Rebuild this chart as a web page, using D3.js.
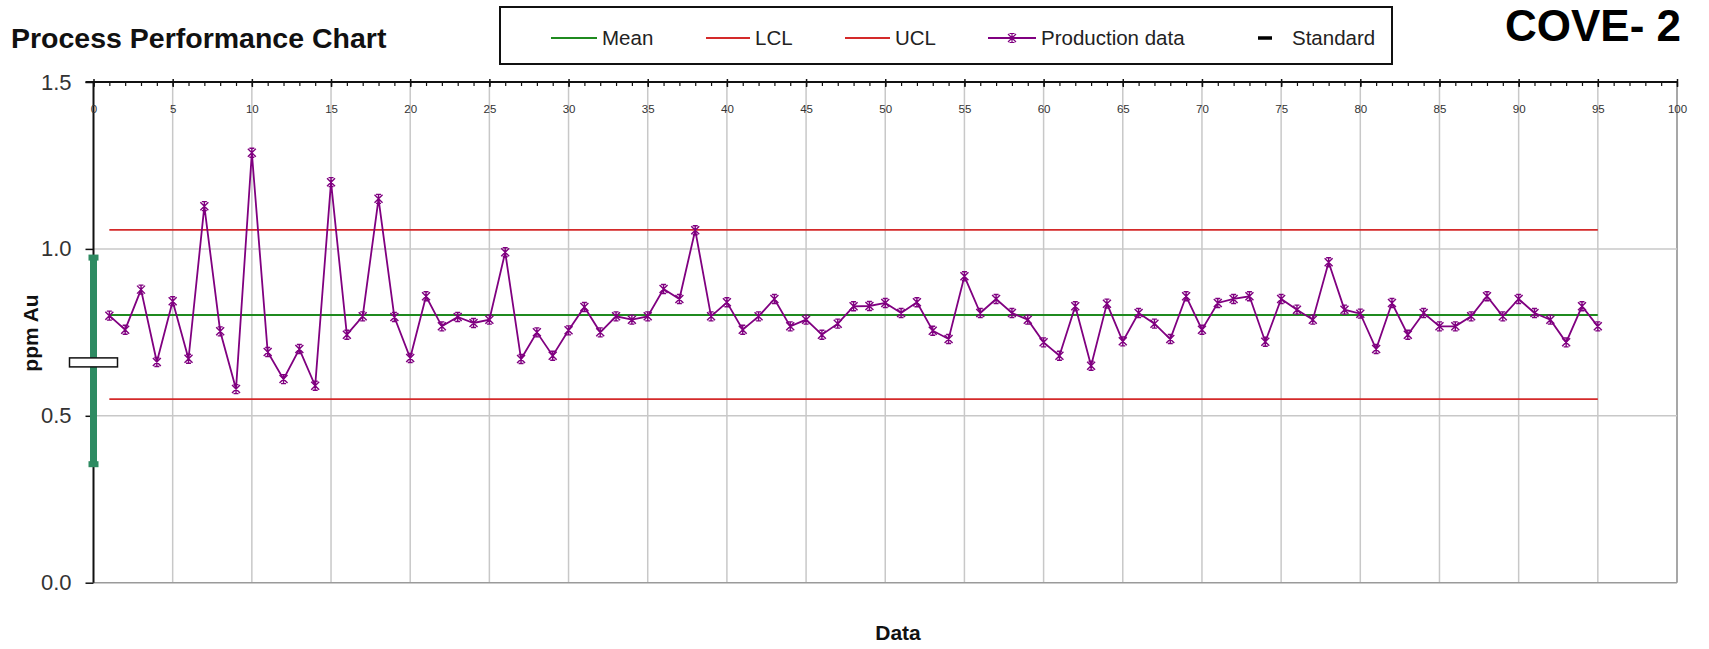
<!DOCTYPE html>
<html>
<head>
<meta charset="UTF-8">
<title>Process Performance Chart</title>
<script src="https://cdnjs.cloudflare.com/ajax/libs/d3/7.8.5/d3.min.js"></script>
<style>
    body { margin: 0; background: #fff; }
    svg { display: block; font-family: "Liberation Sans", Arial, sans-serif; }
</style>
</head>
<body>
<div id="chart"></div>
<script>
    // data
    const sampleNo = d3.range(1, 96);
    const production = [
        0.800, 0.758, 0.878, 0.661, 0.843, 0.671, 1.128, 0.753, 0.580, 1.288,
        0.691, 0.610, 0.700, 0.590, 1.200, 0.743, 0.798, 1.150, 0.796, 0.673,
        0.858, 0.768, 0.796, 0.778, 0.788, 0.990, 0.670, 0.750, 0.680, 0.756,
        0.826, 0.750, 0.798, 0.788, 0.798, 0.880, 0.850, 1.056, 0.798, 0.840,
        0.758, 0.798, 0.850, 0.768, 0.788, 0.743, 0.776, 0.828, 0.829, 0.838,
        0.808, 0.840, 0.755, 0.730, 0.918, 0.808, 0.850, 0.808, 0.788, 0.720,
        0.680, 0.828, 0.650, 0.836, 0.723, 0.808, 0.776, 0.730, 0.858, 0.758,
        0.838, 0.850, 0.858, 0.722, 0.850, 0.818, 0.788, 0.960, 0.818, 0.806,
        0.700, 0.838, 0.743, 0.808, 0.768, 0.768, 0.798, 0.858, 0.798, 0.850,
        0.808, 0.788, 0.720, 0.828, 0.768
    ];
    const limitNames = ["Mean", "LCL", "UCL"];
    const limitValues = [0.802, 0.550, 1.057];
    const limitRange = [1, 95];
    const standardX = 0;
    const standardValue = 0.66;
    const standardRange = [0.355, 0.974];
    const xTicks = d3.range(0, 101, 5);
    const yTicks = [0, 0.5, 1.0, 1.5];
    const legendNames = ["Mean", "LCL", "UCL", "Production data", "Standard"];

    const W = 1709, H = 649;
    const purple = "#800080", red = "#d42a2a", green = "#1f8a1f", barGreen = "#2e8b62";

    const x = d3.scaleLinear().domain([0, 100]).range([93.5, 1677]);
    const y = d3.scaleLinear().domain([0, 1.5]).range([582.7, 82]);

    const svg = d3.select("#chart").append("svg")
        .attr("width", W)
        .attr("height", H);

    // grid
    svg.append("g").selectAll("line")
        .data(xTicks.filter(d => d > 0))
        .join("line")
        .attr("x1", d => x(d)).attr("x2", d => x(d))
        .attr("y1", y(1.5)).attr("y2", y(0))
        .attr("stroke", d => d === 100 ? "#8a8a8a" : "#c8c8c8")
        .attr("stroke-width", 1.5);
    svg.append("g").selectAll("line")
        .data(yTicks.filter(d => d < 1.5))
        .join("line")
        .attr("x1", x(0)).attr("x2", x(100))
        .attr("y1", d => y(d)).attr("y2", d => y(d))
        .attr("stroke", d => d === 0 ? "#9a9a9a" : "#c8c8c8")
        .attr("stroke-width", 1.5);

    // y axis
    const yAxis = d3.axisLeft(y).tickValues(yTicks).tickFormat(d3.format(".1f")).tickSize(8).tickPadding(14);
    const gy = svg.append("g")
        .attr("transform", "translate(" + x(0) + ",0)")
        .call(yAxis);
    gy.select(".domain").attr("stroke", "#111").attr("stroke-width", 2).attr("d", "M0," + y(1.5) + "V" + y(0));
    gy.selectAll(".tick line").attr("stroke", "#111").attr("stroke-width", 1.5);
    gy.selectAll(".tick text").attr("font-size", 22).attr("fill", "#333").attr("font-family", "Liberation Sans, Arial, sans-serif");

    // x axis along the top, labels inside
    const gxMinor = svg.append("g")
        .attr("transform", "translate(0," + y(1.5) + ")")
        .call(d3.axisBottom(x).ticks(100).tickSize(4).tickFormat(""));
    gxMinor.select(".domain").remove();
    gxMinor.selectAll(".tick line").attr("stroke", "#111").attr("stroke-width", 1.2);

    const gx = svg.append("g")
        .attr("transform", "translate(0," + y(1.5) + ")")
        .call(d3.axisTop(x).tickValues(xTicks).tickSize(-5).tickFormat(d3.format("d")));
    gx.select(".domain").attr("stroke", "#111").attr("stroke-width", 2).attr("d", "M" + (x(0) - 8) + ",0H" + x(100));
    gx.selectAll(".tick line").attr("stroke", "#111").attr("stroke-width", 1.5).attr("y1", -3).attr("y2", 5);
    gx.selectAll(".tick text")
        .attr("y", 27)
        .attr("dy", "0.32em")
        .attr("font-size", 11.5)
        .attr("fill", "#333")
        .attr("font-family", "Liberation Sans Narrow, Liberation Sans, Arial, sans-serif");

    // control lines
    svg.append("g").selectAll("line")
        .data(limitValues)
        .join("line")
        .attr("x1", x(limitRange[0])).attr("x2", x(limitRange[1]))
        .attr("y1", d => y(d)).attr("y2", d => y(d))
        .attr("stroke", (d, i) => i === 0 ? green : red)
        .attr("stroke-width", 1.8);

    // production data
    const line = d3.line()
        .x((d, i) => x(sampleNo[i]))
        .y(d => y(d));
    svg.append("path")
        .datum(production)
        .attr("d", line)
        .attr("fill", "none")
        .attr("stroke", purple)
        .attr("stroke-width", 1.8);

    const star = "M-4,-4L4,4M-4,4L4,-4M0,-4.5V4.5M-2.5,-4.5H2.5M-2.5,4.5H2.5";
    svg.append("g").selectAll("path")
        .data(production)
        .join("path")
        .attr("transform", (d, i) => "translate(" + x(sampleNo[i]) + "," + y(d) + ")")
        .attr("d", star)
        .attr("fill", "none")
        .attr("stroke", purple)
        .attr("stroke-width", 1.4);

    // standard: error bar and marker
    svg.append("line")
        .attr("x1", x(standardX)).attr("x2", x(standardX))
        .attr("y1", y(standardRange[0])).attr("y2", y(standardRange[1]))
        .attr("stroke", barGreen)
        .attr("stroke-width", 7);
    svg.append("g").selectAll("rect")
        .data(standardRange)
        .join("rect")
        .attr("x", x(standardX) - 5).attr("width", 10)
        .attr("y", d => y(d) - 3).attr("height", 6)
        .attr("fill", barGreen);
    svg.append("rect")
        .attr("x", x(standardX) - 24).attr("width", 48)
        .attr("y", y(standardValue) - 4.5).attr("height", 9)
        .attr("fill", "#fff")
        .attr("stroke", "#111")
        .attr("stroke-width", 1.5);

    // axis titles
    svg.append("text")
        .attr("transform", "translate(38," + 333 + ") rotate(-90)")
        .attr("text-anchor", "middle")
        .attr("font-size", 21).attr("font-weight", "bold").attr("fill", "#111")
        .text("ppm Au");
    svg.append("text")
        .attr("x", 898).attr("y", 640)
        .attr("text-anchor", "middle")
        .attr("font-size", 21).attr("font-weight", "bold").attr("fill", "#111")
        .text("Data");

    // titles
    svg.append("text")
        .attr("x", 11).attr("y", 48)
        .attr("font-size", 28.5).attr("font-weight", "bold").attr("fill", "#111")
        .text("Process Performance Chart");
    svg.append("text")
        .attr("x", 1505).attr("y", 41)
        .attr("font-size", 44).attr("font-weight", "bold").attr("fill", "#000")
        .text("COVE- 2");

    // legend
    const legend = svg.append("g");
    legend.append("rect")
        .attr("x", 500).attr("y", 7).attr("width", 892).attr("height", 57)
        .attr("fill", "#fff").attr("stroke", "#111").attr("stroke-width", 2);
    const legX = [551, 706, 845, 988, 1258];
    const legW = [46, 44, 45, 48, 14];
    const legColors = [green, red, red, purple, "#000"];
    const items = legend.selectAll("g.item")
        .data(legendNames)
        .join("g")
        .attr("class", "item")
        .attr("transform", (d, i) => "translate(" + legX[i] + ",38)");
    items.append("line")
        .attr("x1", 0).attr("x2", (d, i) => legW[i])
        .attr("stroke", (d, i) => legColors[i])
        .attr("stroke-width", (d, i) => i === 4 ? 3.5 : 1.8);
    items.filter((d, i) => i === 3).append("path")
        .attr("transform", "translate(24,0)")
        .attr("d", star)
        .attr("fill", "none").attr("stroke", purple).attr("stroke-width", 1.2);
    items.append("text")
        .attr("x", (d, i) => i === 4 ? 34 : legW[i] + 5)
        .attr("y", 7)
        .attr("font-size", 20.5).attr("fill", "#222")
        .text(d => d);
</script>
</body>
</html>
